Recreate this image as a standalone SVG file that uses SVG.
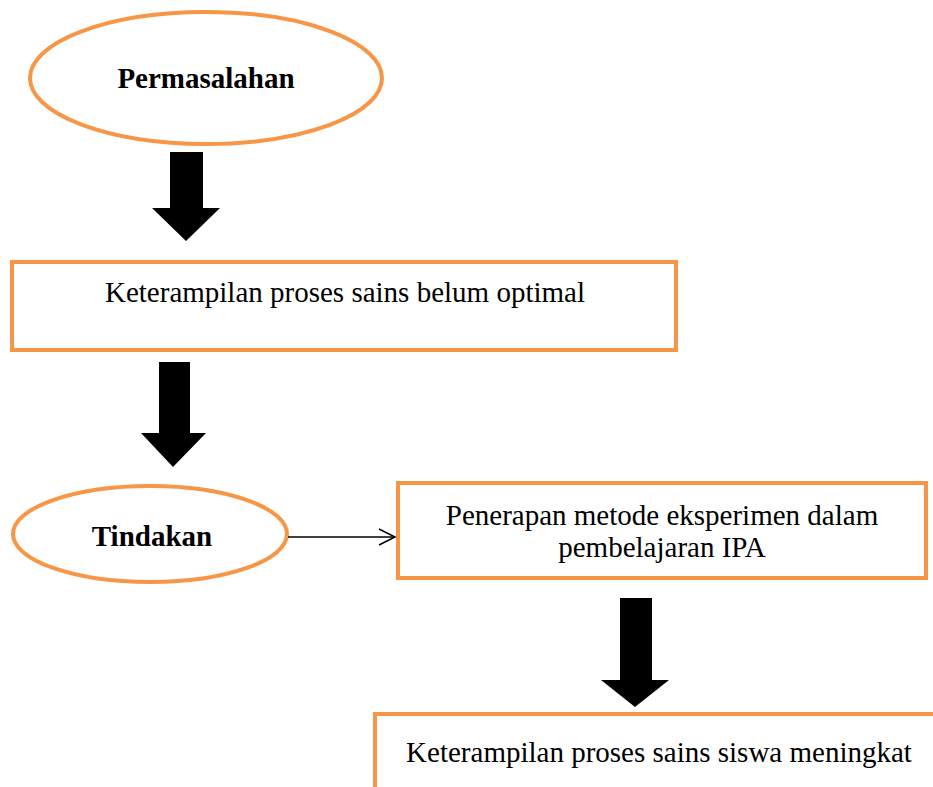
<svg xmlns="http://www.w3.org/2000/svg" width="933" height="787" viewBox="0 0 933 787">
<style>
.shape{fill:#fff;stroke:#F79646;stroke-width:4}
.t{font-family:"Liberation Serif","Times New Roman",serif;font-size:29px;fill:#000;text-anchor:middle}
.b{font-weight:bold}
.big{fill:#000;stroke:none}
.thin{fill:none;stroke:#000;stroke-width:1.5}
</style>
<rect width="933" height="787" fill="#fff"/>
<g id="permasalahan">
<ellipse class="shape" cx="206" cy="78" rx="176" ry="66"/>
<text class="t b" x="206" y="88">Permasalahan</text>
</g>
<g id="box1">
<rect class="shape" x="12" y="262" width="664" height="88"/>
<text class="t" x="345" y="302">Keterampilan proses sains belum optimal</text>
</g>
<g id="tindakan">
<ellipse class="shape" cx="150" cy="534" rx="137" ry="48"/>
<text class="t b" x="152" y="546">Tindakan</text>
</g>
<g id="box3">
<rect class="shape" x="398" y="483" width="528" height="95"/>
<text class="t" x="662" y="525">Penerapan metode eksperimen dalam</text>
<text class="t" x="662" y="557">pembelajaran IPA</text>
</g>
<g id="box4">
<path class="shape" d="M375 787 V714 H935" fill="none"/>
<text class="t" x="659" y="762">Keterampilan proses sains siswa meningkat</text>
</g>
<g id="connectors">
<polygon class="big" points="170,152 203,152 203,208 220,208 186,241 152,208 170,208"/>
<polygon class="big" points="159,362 190,362 190,433 206,433 173,467 141,433 159,433"/>
<polygon class="big" points="620,598 652,598 652,680 669,680 635,707 601,680 620,680"/>
<line class="thin" x1="288" y1="537" x2="395" y2="537"/>
<polyline class="thin" points="379,529 395,537 379,545"/>
</g>
</svg>
